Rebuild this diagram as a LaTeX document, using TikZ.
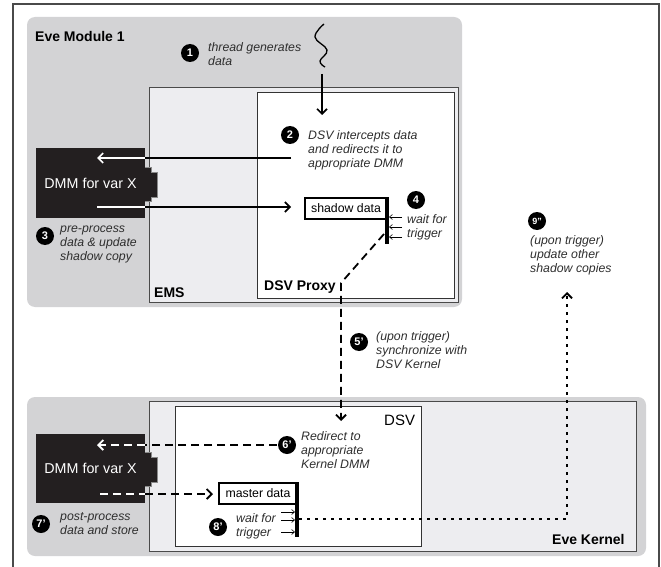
\documentclass[tikz,border=0pt]{standalone}
\usepackage{fontspec}
\setmainfont{Liberation Sans}
\usetikzlibrary{arrows.meta}
\definecolor{regiongray}{HTML}{D3D3D5}
\definecolor{innergray}{HTML}{EDEDF0}
\definecolor{framegray}{HTML}{4A4A4A}
\definecolor{labelgray}{HTML}{2E2E2E}
\definecolor{dmmblack}{HTML}{231F20}
\definecolor{tabgray}{HTML}{8A8A8A}
\tikzset{
  region/.style={fill=regiongray, draw=none, rounded corners=8pt},
  innerbox/.style={fill=innergray, draw=framegray, line width=1pt},
  whitebox/.style={fill=white, draw=black!80, line width=1pt},
  ttl/.style={font=\bfseries\fontsize{14}{16}\selectfont, inner sep=0pt, anchor=west},
  lbl/.style={font=\itshape\fontsize{12.3}{14}\selectfont, align=left, inner sep=0pt, anchor=west, text=labelgray},
  num/.style={circle, fill=black, text=white, font=\bfseries\fontsize{11}{11}\selectfont, minimum size=18pt, inner sep=0pt},
  dmm/.style={rectangle, fill=dmmblack, text=white, font=\fontsize{14.3}{16}\selectfont, minimum width=109pt, minimum height=70pt, inner sep=0pt},
  dmmtab/.style={fill=dmmblack, draw=tabgray, line width=1pt},
  datbox/.style={rectangle, draw=black, line width=2pt, fill=white, font=\fontsize{12.3}{14}\selectfont, inner sep=0pt},
  trigbar/.style={line width=3.5pt},
  tip/.style={-{Straight Barb[length=5pt,width=10pt]}},
  solidline/.style={line width=1.6pt},
  dsh/.style={line width=1.8pt, dash pattern=on 8pt off 5pt},
  dtt/.style={line width=1.8pt, dash pattern=on 3pt off 5pt},
  waitarr/.style={line width=0.6pt, -{Straight Barb[length=3pt,width=5pt]}},
  framestyle/.style={draw=framegray, line width=1.1pt},
}
\begin{document}
\begin{tikzpicture}[x=1pt, y=-1pt]
\useasboundingbox (0,0) rectangle (661,567);
% outer frame (open at bottom)
\draw[framestyle] (13,567) -- (13,4) -- (659,4) -- (659,567);

% ---------------- Eve Module 1 ----------------
\fill[region] (27,17) rectangle (462,307);
\draw[innerbox] (149,88) rectangle (458,302);
\draw[whitebox] (257,93) rectangle (454,298);
\node[ttl] (evemod) at (35,36) {Eve Module 1};
\node[ttl] (ems) at (154,293) {EMS};
\node[ttl] (proxy) at (264,287) {DSV Proxy};

% thread
\draw[line width=1.3pt] plot[smooth, tension=0.7] coordinates {(324,24) (315,37) (327,50) (320,61) (325,67)};
\coordinate (thr) at (322,74);
\coordinate (thrEnd) at (322,115);
\draw[solidline, tip] (thr) -- (thrEnd);

\node[num] (n1) at (190,53) {1};
\node[lbl] (l1) at (208,54) {thread generates\\data};
\node[num] (n2) at (290,135) {2};
\node[lbl] (l2) at (308,150) {DSV intercepts data\\and redirects it to\\appropriate DMM};

% DMM upper
\node[dmm] (dmmA) at (90.5,183) {DMM for var X};
\filldraw[dmmtab, shift={(dmmA.east)}] (0,-16) -- (6,-16) -- (6,-11) -- (12,-11) -- (12,14) -- (6,14) -- (6,18) -- (0,18);

\node[num] (n3) at (45,236) {3};
\node[lbl] (l3) at (60,244) {pre-process\\data \& update\\shadow copy};

% shadow data
\node[datbox, minimum width=83pt, minimum height=21pt] (shadow) at (346,208) {shadow data};
\coordinate (sbT) at (387,197);
\coordinate (sbB) at (387,244);
\draw[trigbar] (sbT) -- (sbB);
\node[num] (n4) at (416,200) {4};
\node[lbl] (l4) at (407,227) {wait for\\trigger};
\foreach \yy [count=\i] in {217,227,237}{
  \coordinate (wa\i) at (402,\yy);
  \coordinate (wb\i) at (389,\yy);
  \draw[waitarr] (wa\i) -- (wb\i);
}

% arrow 2 -> DMM
\coordinate (redirA) at (291,158);
\coordinate (redirB) at (dmmA.east |- redirA);
\coordinate (redirTip) at (97,158);
\draw[solidline] (redirA) -- (redirB);
\draw[solidline, white, tip] (redirB) -- (redirTip);

% DMM -> shadow data
\coordinate (updA) at (97,207);
\coordinate (updB) at (dmmA.east |- updA);
\coordinate (updTip) at (291,207);
\draw[solidline, white] (updA) -- (updB);
\draw[solidline, tip] (updB) -- (updTip);

% 9'' label
\node[num, font=\bfseries\fontsize{9}{9}\selectfont] (n9) at (537,221) {9”};
\node[lbl] (l9) at (530,255) {(upon trigger)\\update other\\shadow copies};

% ---------------- Eve Kernel ----------------
\fill[region] (27,397) rectangle (646,556);
\draw[innerbox] (149,401) rectangle (636,551);
\draw[whitebox] (175,406) rectangle (421,546);
\node[font=\fontsize{15}{17}\selectfont, inner sep=0pt, anchor=west] (dsv) at (384,420) {DSV};
\node[ttl] (kern) at (552,539) {Eve Kernel};

% sync dashed
\coordinate (syncA) at (384,234);
\coordinate (syncB) at (341,283);
\coordinate (syncTip) at (341,421);
\draw[dsh, tip] (syncA) -- (syncB) -- (syncTip);
\node[num] (n5) at (359,342) {5’};
\node[lbl] (l5) at (376,350) {(upon trigger)\\synchronize with\\DSV Kernel};

% DMM lower
\node[dmm, minimum height=69pt] (dmmB) at (90.5,468.5) {DMM for var X};
\filldraw[dmmtab, shift={(dmmB.east)}] (0,-16) -- (6,-16) -- (6,-11) -- (12,-11) -- (12,14) -- (6,14) -- (6,18) -- (0,18);

\node[num] (n6) at (287,445) {6’};
\node[lbl] (l6) at (301,450) {Redirect to\\appropriate\\Kernel DMM};
\coordinate (kA) at (277,445);
\coordinate (kB) at (dmmB.east |- kA);
\coordinate (kTip) at (97,445);
\draw[dsh] (kA) -- (kB);
\draw[dsh, white, tip] (kB) -- (kTip);

% master data
\node[datbox, minimum width=79pt, minimum height=21pt] (master) at (258,493.5) {master data};
\coordinate (mbT) at (297,482);
\coordinate (mbB) at (297,537);
\draw[trigbar] (mbT) -- (mbB);
\coordinate (stA) at (100,494);
\coordinate (stB) at (dmmB.east |- stA);
\coordinate (stTip) at (213,494);
\draw[dsh, white] (stA) -- (stB);
\draw[dsh, tip] (stB) -- (stTip);

\node[num] (n7) at (41,524) {7’};
\node[lbl] (l7) at (60,524) {post-process\\data and store};
\node[num] (n8) at (218,527) {8’};
\node[lbl] (l8) at (236,526) {wait for\\trigger};
\foreach \yy [count=\i] in {512,520,532}{
  \coordinate (ma\i) at (281,\yy);
  \coordinate (mb\i) at (295,\yy);
  \draw[waitarr] (ma\i) -- (mb\i);
}

% dotted update arrow
\coordinate (upA) at (299,519);
\coordinate (upB) at (567,519);
\coordinate (upTip) at (567,292);
\draw[dtt, tip] (upA) -- (upB) -- (upTip);
\end{tikzpicture}
\end{document}
